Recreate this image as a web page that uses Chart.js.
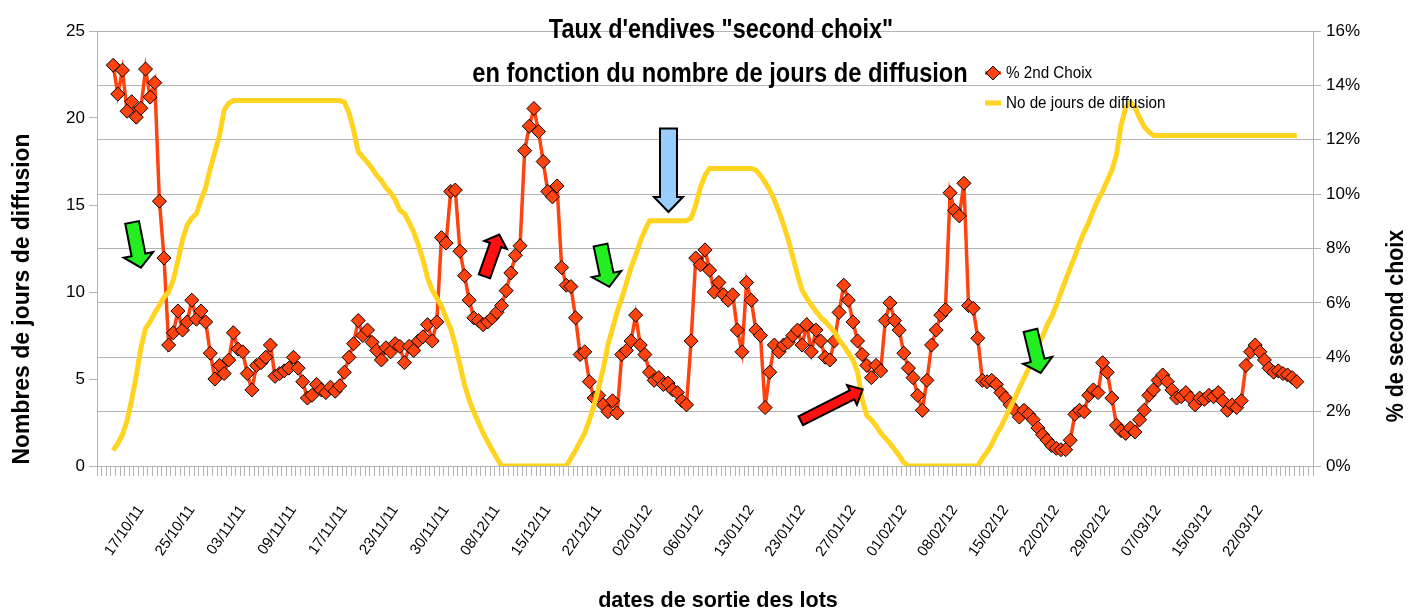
<!DOCTYPE html>
<html>
<head>
<meta charset="utf-8">
<script src="https://cdn.jsdelivr.net/npm/chart.js@4.4.1/dist/chart.umd.min.js"></script>
<style>
  html, body { margin: 0; padding: 0; background: #fff; }
  #wrap { width: 1422px; height: 612px; position: relative; }
</style>
</head>
<body>
<div id="wrap"><canvas id="grafica" width="1422" height="612"></canvas></div>
<script>
// dates shown under the axis (one every 11 lots)
const tickLabels = ['17/10/11','25/10/11','03/11/11','09/11/11','17/11/11','23/11/11','30/11/11',
  '08/12/11','15/12/11','22/12/11','02/01/12','06/01/12','13/01/12','23/01/12','27/01/12',
  '01/02/12','08/02/12','15/02/12','22/02/12','29/02/12','07/03/12','15/03/12','22/03/12'];
const firstLabel = 9;
const labelStep = 11;
const nbLots = 263;

// % 2nd choix (right axis, %)
const secondChoixPct = [
  null, null, null,
  14.74, 13.68, 14.56, 13.05, 13.4, 12.83, 13.16, 14.6, 13.57, 14.1,
  9.74, 7.65, 4.45, 4.9, 5.7, 5.0, 5.3, 6.1, 5.4, 5.7,
  5.3, 4.15, 3.2, 3.7, 3.4, 3.9, 4.9, 4.3, 4.2, 3.4,
  2.8, 3.7, 3.8, 4.0, 4.45, 3.3, 3.4, 3.5, 3.6, 4.0,
  3.6, 3.1, 2.5, 2.6, 3.0, 2.8, 2.7, 2.9, 2.75, 2.95,
  3.45, 4.0, 4.5, 5.35, 4.8, 5.0, 4.55, 4.25, 3.9, 4.35,
  4.2, 4.5, 4.4, 3.8, 4.4, 4.25, 4.6, 4.75, 5.2, 4.6,
  5.3, 8.4, 8.2, 10.1, 10.15, 7.9, 7.0, 6.1, 5.45, 5.35,
  5.2, 5.3, 5.45, 5.65, 5.9, 6.45, 7.1, 7.75, 8.1, 11.6,
  12.5, 13.15, 12.3, 11.2, 10.1, 9.9, 10.3, 7.3, 6.65, 6.6,
  5.45, 4.1, 4.2, 3.1, 2.5, 2.6, 2.25, 2.0, 2.4, 1.95,
  4.1, 4.25, 4.6, 5.55, 4.45, 4.1, 3.45, 3.15, 3.25, 3.0,
  3.05, 2.8, 2.7, 2.4, 2.25, 4.6, 7.65, 7.4, 7.95, 7.2,
  6.4, 6.75, 6.3, 6.1, 6.3, 5.0, 4.2, 6.75, 6.1, 5.0,
  4.8, 2.15, 3.45, 4.45, 4.2, 4.45, 4.55, 4.8, 5.0, 4.45,
  5.2, 4.2, 5.0, 4.6, 4.0, 3.9, 4.6, 5.65, 6.65, 6.1,
  5.3, 4.6, 4.1, 3.7, 3.25, 3.7, 3.5, 5.35, 6.0, 5.35,
  5.0, 4.15, 3.6, 3.25, 2.6, 2.05, 3.15, 4.45, 5.0, 5.55,
  5.75, 10.05, 9.4, 9.2, 10.4, 5.9, 5.8, 4.7, 3.15, 3.1,
  3.15, 3.0, 2.7, 2.5, 2.25, 2.05, 1.8, 2.05, 1.9, 1.7,
  1.4, 1.15, 0.95, 0.75, 0.65, 0.6, 0.6, 0.95, 1.9, 2.05,
  2.0, 2.6, 2.8, 2.7, 3.8, 3.45, 2.5, 1.5, 1.3, 1.2,
  1.4, 1.25, 1.7, 2.05, 2.6, 2.8, 3.15, 3.35, 3.1, 2.8,
  2.5, 2.55, 2.7, 2.5, 2.25, 2.5, 2.45, 2.6, 2.55, 2.7,
  2.4, 2.05, 2.25, 2.15, 2.4, 3.7, 4.2, 4.45, 4.2, 3.9,
  3.6, 3.45, 3.5, 3.4, 3.35, 3.25, 3.1,
  null, null, null
];

// No de jours de diffusion (left axis)
const joursDiffusion = [
  null, null, null,
  0.9, 1.3, 1.8, 2.6, 3.8, 5.2, 6.8, 7.9, 8.3, 8.8,
  9.25, 9.7, 10.0, 10.7, 11.8, 13.0, 13.85, 14.25, 14.5, 15.3,
  16.0, 17.1, 18.05, 19.0, 20.45, 20.85, 21, 21, 21, 21,
  21, 21, 21, 21, 21, 21, 21, 21, 21, 21,
  21, 21, 21, 21, 21, 21, 21, 21, 21, 21,
  20.9, 20.3, 19.3, 18.05, 17.75, 17.45, 17.1, 16.7, 16.4, 16.0,
  15.7, 15.3, 14.7, 14.5, 14.0, 13.45, 12.7, 11.85, 10.8, 10.1,
  9.65, 9.2, 8.5, 7.9, 6.95, 5.8, 4.65, 3.8, 3.1, 2.5,
  1.9, 1.4, 0.9, 0.45, 0, 0, 0, 0, 0, 0,
  0, 0, 0, 0, 0, 0, 0, 0, 0, 0.45,
  0.9, 1.4, 1.9, 2.65, 3.5, 4.5, 5.6, 6.95, 7.9, 8.85,
  9.65, 10.5, 11.4, 12.1, 12.9, 13.55, 14.1, 14.1, 14.1, 14.1,
  14.1, 14.1, 14.1, 14.1, 14.1, 14.25, 15.0, 16.0, 16.7, 17.1,
  17.1, 17.1, 17.1, 17.1, 17.1, 17.1, 17.1, 17.1, 17.1, 17.0,
  16.7, 16.3, 15.85, 15.3, 14.6, 13.85, 13.0, 12.0, 11.0, 10.1,
  9.65, 9.25, 8.9, 8.55, 8.3, 8.0, 7.7, 7.25, 6.9, 6.5,
  6.1, 5.4, 3.8, 2.9, 2.65, 2.3, 1.9, 1.6, 1.3, 0.95,
  0.6, 0.2, 0, 0, 0, 0, 0, 0, 0, 0,
  0, 0, 0, 0, 0, 0, 0, 0, 0.45, 0.8,
  1.25, 1.8, 2.25, 2.8, 3.35, 3.9, 4.5, 5.05, 5.6, 6.2,
  6.9, 7.45, 8.1, 8.6, 9.25, 10.0, 10.7, 11.4, 12.05, 12.8,
  13.45, 14.0, 14.7, 15.3, 15.8, 16.4, 17.0, 17.9, 19.6, 20.6,
  20.9, 20.6, 20.0, 19.5, 19.2, 19, 19, 19, 19, 19,
  19, 19, 19, 19, 19, 19, 19, 19, 19, 19,
  19, 19, 19, 19, 19, 19, 19, 19, 19, 19,
  19, 19, 19, 19, 19, 19, 19,
  null, null, null
];

const lots = Array.from({ length: nbLots }, (_, i) => i);

const ROUGE = '#ff420e';
const JAUNE = '#ffd320';
const GRIS = '#b3b3b3';
const POLICE = "'Liberation Sans Narrow', 'Arial Narrow', 'Liberation Sans', sans-serif";

// annotation arrows, in (lot index, days) coordinates
const fleches = [
  { de: [7.1, 14.0], a: [9.0, 11.4], tige: 14, tete: 30, lgTete: 13, couleur: '#22ee22' },
  { de: [108.4, 12.7], a: [110.3, 10.3], tige: 14, tete: 30, lgTete: 13, couleur: '#22ee22' },
  { de: [201.4, 7.8], a: [203.6, 5.35], tige: 14, tete: 30, lgTete: 13, couleur: '#22ee22' },
  { de: [83.3, 10.9], a: [86.5, 13.3], tige: 12, tete: 24, lgTete: 11, couleur: '#ff1010' },
  { de: [151.7, 2.6], a: [165.1, 4.4], tige: 10, tete: 22, lgTete: 12, couleur: '#ff1010' },
  { de: [123.1, 19.4], a: [123.1, 14.6], tige: 17, tete: 29, lgTete: 15, couleur: '#99ccff' }
];

function flecheBloc(ctx, x1, y1, x2, y2, tige, tete, lgTete, couleur) {
  const ang = Math.atan2(y2 - y1, x2 - x1);
  const len = Math.hypot(x2 - x1, y2 - y1);
  ctx.save();
  ctx.translate(x1, y1);
  ctx.rotate(ang);
  ctx.beginPath();
  ctx.moveTo(0, -tige / 2);
  ctx.lineTo(len - lgTete, -tige / 2);
  ctx.lineTo(len - lgTete, -tete / 2);
  ctx.lineTo(len, 0);
  ctx.lineTo(len - lgTete, tete / 2);
  ctx.lineTo(len - lgTete, tige / 2);
  ctx.lineTo(0, tige / 2);
  ctx.closePath();
  ctx.fillStyle = couleur;
  ctx.fill();
  ctx.lineWidth = 2;
  ctx.strokeStyle = '#000';
  ctx.stroke();
  ctx.restore();
}

// narrow text: no narrow font installed, so squeeze along the text direction
function texte(ctx, s, x, y, rot, serre) {
  ctx.save();
  ctx.translate(x, y);
  ctx.rotate(rot);
  ctx.scale(serre, 1);
  ctx.fillText(s, 0, 0);
  ctx.restore();
}

const decor = {
  id: 'decor',
  afterDraw(chart) {
    const ctx = chart.ctx;
    const sx = chart.scales.x, sy = chart.scales.y;
    fleches.forEach(f => {
      flecheBloc(ctx, sx.getPixelForValue(f.de[0]), sy.getPixelForValue(f.de[1]),
        sx.getPixelForValue(f.a[0]), sy.getPixelForValue(f.a[1]), f.tige, f.tete, f.lgTete, f.couleur);
    });
    ctx.save();
    ctx.fillStyle = '#000';
    ctx.textAlign = 'center';
    ctx.textBaseline = 'alphabetic';
    ctx.font = 'bold 28px ' + POLICE;
    texte(ctx, 'Taux d\'endives "second choix"', 721, 38, 0, 0.835);
    texte(ctx, 'en fonction du nombre de jours de diffusion', 720, 82, 0, 0.845);
    ctx.font = 'bold 22px ' + POLICE;
    texte(ctx, 'dates de sortie des lots', 718, 607, 0, 0.98);
    ctx.textBaseline = 'middle';
    ctx.font = 'bold 24px ' + POLICE;
    texte(ctx, 'Nombres de jours de diffusion', 22, 299, -Math.PI / 2, 0.955);
    texte(ctx, '% de second choix', 1396, 326, -Math.PI / 2, 0.89);
    // legend
    ctx.textAlign = 'left';
    ctx.lineWidth = 3.5;
    ctx.strokeStyle = ROUGE;
    ctx.beginPath(); ctx.moveTo(985, 73); ctx.lineTo(1001, 73); ctx.stroke();
    ctx.beginPath();
    ctx.moveTo(993, 66); ctx.lineTo(1000, 73); ctx.lineTo(993, 80); ctx.lineTo(986, 73); ctx.closePath();
    ctx.fillStyle = ROUGE; ctx.fill();
    ctx.lineWidth = 1; ctx.strokeStyle = '#000'; ctx.stroke();
    ctx.lineWidth = 5;
    ctx.strokeStyle = JAUNE;
    ctx.beginPath(); ctx.moveTo(985, 103); ctx.lineTo(1001, 103); ctx.stroke();
    ctx.fillStyle = '#000';
    ctx.font = '16px ' + POLICE;
    texte(ctx, chart.data.datasets[0].label, 1006, 74, 0, 0.95);
    texte(ctx, chart.data.datasets[1].label, 1006, 104, 0, 0.95);
    ctx.restore();
  }
};

new Chart(document.getElementById('grafica'), {
  type: 'line',
  data: {
    labels: lots,
    datasets: [
      {
        label: '% 2nd Choix',
        data: secondChoixPct,
        yAxisID: 'y1',
        borderColor: ROUGE,
        borderWidth: 3.5,
        backgroundColor: ROUGE,
        pointStyle: 'rectRot',
        pointRadius: 7,
        pointHoverRadius: 7,
        pointBackgroundColor: ROUGE,
        pointBorderColor: '#000',
        pointBorderWidth: 1,
        tension: 0,
        order: 1
      },
      {
        label: 'No de jours de diffusion',
        data: joursDiffusion,
        yAxisID: 'y',
        borderColor: JAUNE,
        borderWidth: 5,
        pointRadius: 0,
        tension: 0,
        order: 0
      }
    ]
  },
  options: {
    responsive: false,
    animation: false,
    layout: { padding: { top: 31, left: 0, right: 0, bottom: 0 } },
    plugins: { legend: { display: false }, tooltip: { enabled: false }, title: { display: false } },
    scales: {
      x: {
        type: 'category',
        offset: true,
        grid: { drawOnChartArea: false, drawTicks: true, tickLength: 10, color: GRIS, offset: true },
        border: { color: GRIS, width: 1 },
        ticks: {
          autoSkip: false,
          minRotation: 55,
          maxRotation: 55,
          padding: 26,
          color: '#000',
          font: { family: POLICE, size: 15 },
          callback: function (v, i) {
            const k = (i - firstLabel) / labelStep;
            return (i >= firstLabel && Number.isInteger(k) && k < tickLabels.length) ? tickLabels[k] : '';
          }
        },
        afterFit: s => { s.height = 146; }
      },
      y: {
        position: 'left',
        min: 0,
        max: 25,
        ticks: { stepSize: 5, padding: 4, color: '#000', font: { family: POLICE, size: 17 } },
        grid: { drawOnChartArea: false, tickLength: 8, color: GRIS },
        border: { color: GRIS, width: 1 },
        afterFit: s => { s.width = 97; }
      },
      y1: {
        position: 'right',
        min: 0,
        max: 16,
        ticks: { stepSize: 2, padding: 5, color: '#000', font: { family: POLICE, size: 17 },
          callback: v => v + '%' },
        grid: { drawOnChartArea: true, tickLength: 8, color: GRIS },
        border: { color: GRIS, width: 1 },
        afterFit: s => { s.width = 109; }
      }
    }
  },
  plugins: [decor]
});
</script>
</body>
</html>
